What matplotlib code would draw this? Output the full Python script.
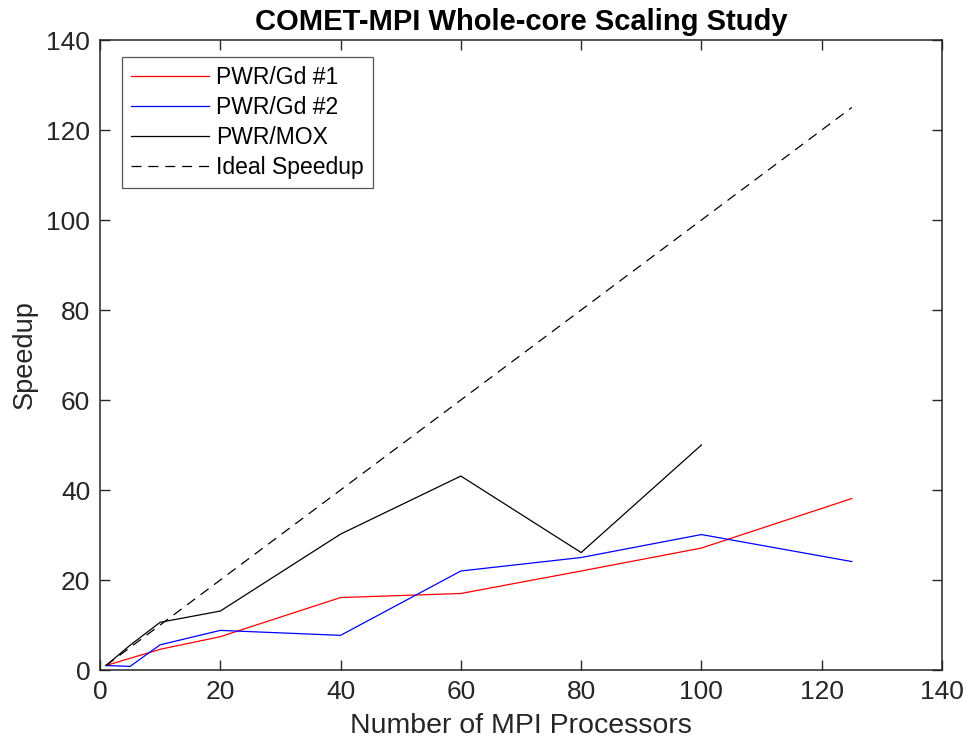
import matplotlib
matplotlib.use('Agg')
import matplotlib.pyplot as plt

plt.rcParams['font.family'] = ['Liberation Sans', 'DejaVu Sans']

# processor counts and measured speedups
procs = [1, 5, 10, 20, 40, 60, 80, 100, 125]
gd1 = [1, 2.6, 4.6, 7.4, 16.1, 17.0, 22.0, 27.1, 38.1]
gd2 = [1, 0.8, 5.6, 8.8, 7.7, 22.0, 25.0, 30.1, 24.1]
mox_procs = [1, 5, 10, 20, 40, 60, 80, 100]
mox = [1, 5.5, 10.6, 13.1, 30.2, 43.1, 26.1, 50.0]
ideal = procs

grey = '#262626'

fig = plt.figure(figsize=(9.7, 7.44), dpi=100)
ax = fig.add_axes([100 / 970, 74 / 744, 842 / 970, 630 / 744])

ax.plot(procs, gd1, color='red', lw=0.9, label='PWR/Gd #1')
ax.plot(procs, gd2, color='blue', lw=0.9, label='PWR/Gd #2')
ax.plot(mox_procs, mox, color='black', lw=0.9, label='PWR/MOX')
ax.plot(procs, ideal, color='black', lw=0.9, dashes=(8, 5.5), label='Ideal Speedup')

ax.set_xlim(0, 140)
ax.set_ylim(0, 140)
ax.set_xticks(range(0, 141, 20))
ax.set_yticks(range(0, 141, 20))
ax.tick_params(direction='in', length=7, width=1.0, top=True, right=True,
               labelsize=19, colors=grey, pad=7)
for s in ax.spines.values():
    s.set_color(grey)
    s.set_linewidth(1.1)

ax.set_xlabel('Number of MPI Processors', fontsize=20.5, color=grey, labelpad=7)
ax.set_ylabel('Speedup', fontsize=19.5, color=grey, labelpad=6)
ax.set_title('COMET-MPI Whole-core Scaling Study', fontsize=21, fontweight='bold', pad=7)

leg = ax.legend(loc='upper left', bbox_to_anchor=(0.026, 0.973), borderaxespad=0,
                fontsize=16.5, fancybox=False, framealpha=1, handlelength=3.4,
                handletextpad=0.3, labelspacing=0.3, borderpad=0.4)
leg.get_frame().set_edgecolor('#555555')
leg.get_frame().set_linewidth(0.9)

fig.savefig('out.png', dpi=100)
